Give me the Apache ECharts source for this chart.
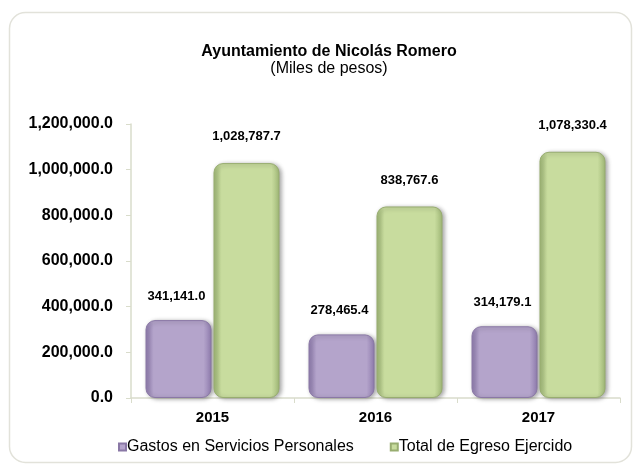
<!DOCTYPE html>
<html><head><meta charset="utf-8">
<script src="https://cdn.jsdelivr.net/npm/echarts@6/dist/echarts.min.js"></script>
<style>html,body{margin:0;padding:0;background:#fff}#c{width:634px;height:466px}</style>
</head><body><div id="c"></div>
<script>
var categories = ['2015', '2016', '2017'];
var gastos = [341141.0, 278465.4, 314179.1];
var totalEgreso = [1028787.7, 838767.6, 1078330.4];
var seriesNames = ['Gastos en Servicios Personales', 'Total de Egreso Ejercido'];
var yTicks = [0, 200000, 400000, 600000, 800000, 1000000, 1200000];

function fmt(v){ return Number(v).toLocaleString('en-US',{minimumFractionDigits:1, maximumFractionDigits:1}); }
function grad(dark, light){
  return new echarts.graphic.LinearGradient(0,0,1,0,[
    {offset:0,color:dark},{offset:0.12,color:light},{offset:0.88,color:light},{offset:1,color:dark}]);
}
var chart = echarts.init(document.getElementById('c'));
chart.setOption({
  animation:false,
  backgroundColor:'#fff',
  graphic:[{type:'rect',left:7,top:10,shape:{width:622,height:450,r:16},style:{fill:'none',stroke:'#e2e2da',lineWidth:1.5},silent:true}],
  title:{text:'Ayuntamiento de Nicolás Romero',subtext:'(Miles de pesos)',left:324,textAlign:'center',top:39,itemGap:1,
    textStyle:{fontFamily:'Liberation Sans',fontSize:16,fontWeight:'bold',color:'#000'},
    subtextStyle:{fontFamily:'Liberation Sans',fontSize:16,color:'#000'}},
  legend:{bottom:6,left:113,itemWidth:7,itemHeight:7,itemGap:36,icon:'rect',
    textStyle:{fontFamily:'Liberation Sans',fontSize:16,color:'#000',padding:[0,0,0,-4]}},
  grid:{left:131,right:14,top:124,bottom:68},
  xAxis:{type:'category',data:categories,
    axisLine:{lineStyle:{color:'#d9dccb',width:1.5}},
    axisTick:{show:true,lineStyle:{color:'#d9dccb'}},
    axisLabel:{fontFamily:'Liberation Sans',fontSize:15,fontWeight:'bold',color:'#000',margin:12}},
  yAxis:{type:'value',min:yTicks[0],max:yTicks[yTicks.length-1],interval:yTicks[1]-yTicks[0],
    axisLine:{show:true,lineStyle:{color:'#d9dccb',width:1.5}},
    axisTick:{show:true,length:5,lineStyle:{color:'#d9dccb'}},
    splitLine:{show:false},
    axisLabel:{fontFamily:'Liberation Sans',fontSize:16,fontWeight:'bold',color:'#000',margin:18,formatter:fmt}},
  series:[
    {name:seriesNames[0],type:'bar',data:gastos,barWidth:66,barGap:'3%',
      itemStyle:{color:grad('#8f7cae','#b4a4cb'),borderRadius:9,borderColor:'#8a78a6',borderWidth:1,
        shadowBlur:4,shadowColor:'rgba(0,0,0,0.35)',shadowOffsetX:2,shadowOffsetY:1},
      label:{show:true,position:'top',distance:17,offset:[-2,0],formatter:function(p){return fmt(p.value);},
        fontFamily:'Liberation Sans',fontSize:13,fontWeight:'bold',color:'#000'}},
    {name:seriesNames[1],type:'bar',data:totalEgreso,barWidth:66,
      itemStyle:{color:grad('#a0b877','#c8dc9e'),borderRadius:9,borderColor:'#98ad70',borderWidth:1,
        shadowBlur:4,shadowColor:'rgba(0,0,0,0.35)',shadowOffsetX:2,shadowOffsetY:1},
      label:{show:true,position:'top',distance:20,formatter:function(p){return fmt(p.value);},
        fontFamily:'Liberation Sans',fontSize:13,fontWeight:'bold',color:'#000'}}
  ]
});
</script></body></html>
